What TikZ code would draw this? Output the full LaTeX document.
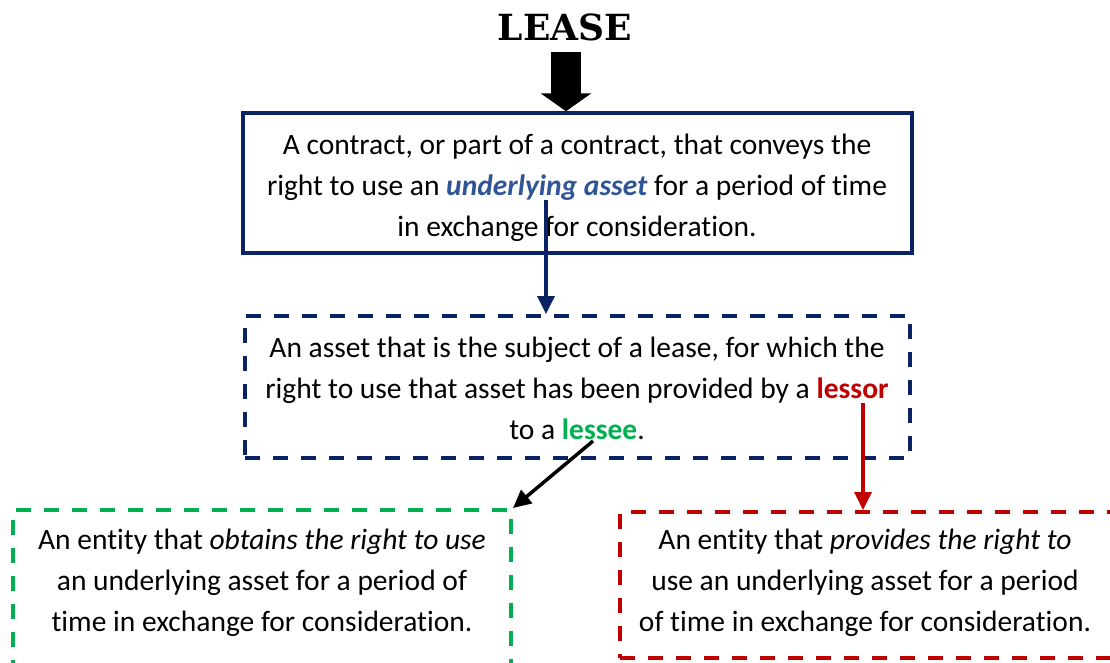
\documentclass[tikz,border=0pt]{standalone}
\usepackage{fontspec}
\setmainfont{Carlito}[Ligatures=NoCommon]
\newfontfamily\leasefont{DejaVu Serif}
\usetikzlibrary{arrows.meta}
\definecolor{navy}{HTML}{0A2364}
\definecolor{ublue}{HTML}{2F5597}
\definecolor{lred}{HTML}{C00000}
\definecolor{lgreen}{HTML}{00B050}
\tikzset{
  txt/.style={font=\fontsize{29.5}{41}\selectfont, align=center, inner sep=0pt},
  boxline/.style={line width=3.5pt},
  dashbox/.style={line width=4pt, dash pattern=on 15pt off 13pt},
  conn/.style={line width=3.5pt, -{Triangle[length=18pt,width=17pt]}}
}
\begin{document}
\begin{tikzpicture}[x=1pt,y=-1pt]
\useasboundingbox (0,0) rectangle (1110,662);
\clip (0,0) rectangle (1110,662);
% title
\node[font=\leasefont\bfseries\fontsize{36}{40}\selectfont, inner sep=0pt] (lease) at (565,27) {LEASE};
% boxes
\node[draw=navy, boxline, minimum width=669pt, minimum height=140pt, inner sep=0pt] (def) at (577.5,183) {};
\node[draw=navy, dashbox, minimum width=665pt, minimum height=142pt, inner sep=0pt] (sub) at (577.5,387) {};
\node[draw=lgreen, dashbox, minimum width=498pt, minimum height=170pt, inner sep=0pt] (lessee) at (262,595) {};
\node[draw=lred, dashbox, minimum width=500pt, minimum height=146pt, inner sep=0pt] (lessor) at (870,585) {};
% texts
\node[txt] (t1) at (577,188) {A contract, or part of a contract, that conveys the\\ right to use an \textcolor{ublue}{\textbf{\textit{underlying asset}}} for a period of time\\ in exchange for consideration.};
\node[txt] (t2) at (577,388) {An asset that is the subject of a lease, for which the\\ right to use that asset has been provided by a \textcolor{lred}{\textbf{lessor}}\\ to a \textcolor{lgreen}{\textbf{lessee}}.};
\node[txt] (t3) at (262,583) {An entity that \textit{obtains the right to use}\\ an underlying asset for a period of\\ time in exchange for consideration.};
\node[txt] (t4) at (865,583) {An entity that \textit{provides the right to}\\ use an underlying asset for a period\\ of time in exchange for consideration.};
% connectors
\coordinate (a0) at (566,52);
\draw[line width=30pt, -{Triangle[length=18pt,width=50pt]}] (a0) -- (a0 |- def.north);
\coordinate (a1) at (546,200);
\draw[navy, conn] (a1) -- (a1 |- sub.north);
\coordinate (a2) at (593,441);
\draw[black, conn] (a2) -- (lessee.north east);
\coordinate (a3) at (863,403);
\draw[lred, conn] (a3) -- (a3 |- lessor.north);
\end{tikzpicture}
\end{document}
